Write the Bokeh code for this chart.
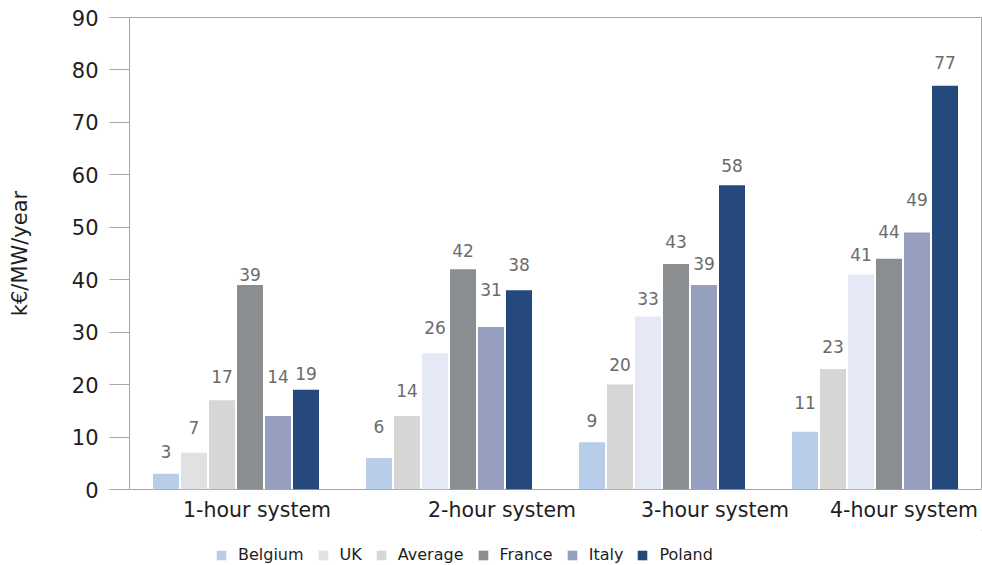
from bokeh.plotting import figure
from bokeh.layouts import column
from bokeh.models import (ColumnDataSource, Range1d, FixedTicker, Legend, LegendItem,
                          LabelSet, CustomJSTickFormatter)
from bokeh.core.properties import value
from bokeh.transform import dodge
from bokeh.embed import file_html
from bokeh.resources import INLINE

# --- data -------------------------------------------------------------
systems = ["1-hour system", "2-hour system", "3-hour system", "4-hour system"]
countries = ["Belgium", "UK", "Average", "France", "Italy", "Poland"]

belgium = [3, 6, 9, 11]
uk = [7, 14, 20, 23]
average = [17, 26, 33, 41]
france = [39, 42, 43, 44]
italy = [14, 31, 39, 49]
poland = [19, 38, 58, 77]
series = [belgium, uk, average, france, italy, poland]

y_ticks = list(range(0, 91, 10))
y_title = "k€/MW/year"

# --- styling ----------------------------------------------------------
FONT = "DejaVu Sans"
legend_colors = ["#b8cdea", "#e0e1e3", "#d6d6d4", "#8b8e91", "#969fbf", "#25497c"]
bar_colors = [
    ["#b8cdea"] * 4,
    ["#e0e1e3", "#d6d6d4", "#d6d6d4", "#d6d6d4"],
    ["#d6d6d4", "#e5e9f6", "#e5e9f6", "#e5e9f6"],
    ["#8b8e91"] * 4,
    ["#969fbf"] * 4,
    ["#25497c"] * 4,
]
# vertical lift (px) of each value label above its bar
label_lift = [
    [16, 25, 15, 23],
    [19, 19, 14, 16],
    [17, 19, 11, 13],
    [4, 12, 16, 21],
    [33, 31, 15, 27],
    [10, 19, 13, 17],
]
# horizontal shift (px) of the category captions from the group centres
caption_shift = [21, 53, 53, 29]

FRAME_W, FRAME_H = 852, 472
n_groups = len(systems)
cat_px = FRAME_W / n_groups
bar_w = 26 / cat_px
bar_step = 28 / cat_px
group_center = [i + 0.5 for i in range(n_groups)]

p = figure(
    x_range=Range1d(0, n_groups),
    y_range=Range1d(0, 90),
    frame_width=FRAME_W, frame_height=FRAME_H,
    min_border_left=129, min_border_right=1, min_border_top=17, min_border_bottom=41,
    output_backend="svg", toolbar_location=None,
    background_fill_color="white", border_fill_color="white",
)
p.outline_line_color = "#a6a6a6"
p.outline_line_width = 1
p.grid.visible = False

# y axis
ya = p.yaxis[0]
ya.ticker = FixedTicker(ticks=y_ticks)
ya.major_tick_out = 20
ya.major_tick_in = 0
ya.minor_tick_out = 0
ya.minor_tick_in = 0
ya.axis_line_color = "#a6a6a6"
ya.major_tick_line_color = "#a6a6a6"
ya.major_label_text_font = FONT
ya.major_label_text_font_size = "21px"
ya.major_label_text_color = "#1e1e1e"
ya.major_label_standoff = 11
ya.axis_label = y_title
ya.axis_label_text_font = FONT
ya.axis_label_text_font_size = "21px"
ya.axis_label_text_font_style = "normal"
ya.axis_label_text_color = "#1e1e1e"
ya.axis_label_standoff = 37

# x axis carries the system captions
xa = p.xaxis[0]
xa.ticker = FixedTicker(ticks=[c + s / cat_px for c, s in zip(group_center, caption_shift)])
xa.formatter = CustomJSTickFormatter(args=dict(labels=systems), code="return labels[index];")
xa.major_tick_out = 0
xa.major_tick_in = 0
xa.minor_tick_out = 0
xa.minor_tick_in = 0
xa.axis_line_color = None
xa.major_label_standoff = 8
xa.major_label_text_font = FONT
xa.major_label_text_font_size = "20.5px"
xa.major_label_text_color = "#1e1e1e"

# bars and value labels
for k, (name, vals) in enumerate(zip(countries, series)):
    src = ColumnDataSource(dict(
        center=group_center,
        value=vals,
        text=[str(v) for v in vals],
        color=bar_colors[k],
        lift=label_lift[k],
    ))
    off = (k - (len(countries) - 1) / 2) * bar_step
    p.vbar(x=dodge("center", off), top="value", width=bar_w,
           source=src, fill_color="color", line_color=None)
    p.add_layout(LabelSet(
        x=dodge("center", off), y="value", text="text", source=src,
        y_offset="lift", text_align="center", text_baseline="alphabetic",
        text_font=value(FONT), text_font_size=value("17px"), text_color=value("#6b6b6b"),
    ))

# legend strip underneath the chart (its frame lines up with the chart frame)
LEG_H = 35
lg = figure(
    width=FRAME_W + 130, height=LEG_H,
    x_range=Range1d(0, 1), y_range=Range1d(0, 1),
    min_border_left=0, min_border_right=0, min_border_top=0, min_border_bottom=0,
    x_axis_location=None, y_axis_location=None,
    output_backend="svg", toolbar_location=None,
    background_fill_color="white", border_fill_color="white",
)
lg.outline_line_color = None
lg.grid.visible = False
items = []
for name, c in zip(countries, legend_colors):
    # swatch-only renderer, parked outside the strip's visible range
    r = lg.vbar(x=[5], top=[5], bottom=[4], width=0.1, fill_color=c, line_color=None)
    items.append(LegendItem(label=name, renderers=[r], index=0))
legend = Legend(
    items=items, orientation="horizontal", location=(86, 1),
    glyph_width=12, glyph_height=12, label_standoff=11, spacing=13,
    label_text_font=FONT, label_text_font_size="16px", label_text_color="#1e1e1e",
    padding=0, margin=0, border_line_color=None, background_fill_alpha=0,
)
lg.add_layout(legend)

layout = column(p, lg, spacing=0)
open("out.html", "w").write(file_html(layout, INLINE))
